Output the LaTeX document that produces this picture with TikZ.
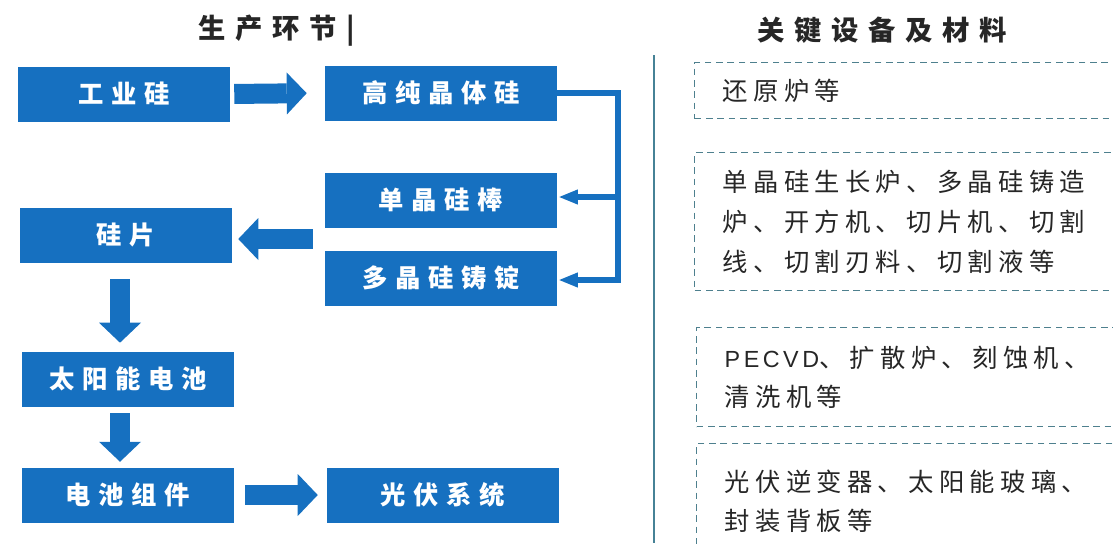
\documentclass[tikz,border=0pt]{standalone}
\usepackage{fontspec}
\usepackage{xcolor}
\usepackage{tikz}
\usetikzlibrary{arrows.meta,calc,positioning}

\newfontfamily\boxfont{Noto Sans CJK SC}[LetterSpace=30]
\newfontfamily\listfont{Noto Sans CJK SC}[LetterSpace=21]
\newfontfamily\headfont{Noto Sans CJK SC}[LetterSpace=35]
\newfontfamily\latinfont{Liberation Sans}[LetterSpace=15]

\definecolor{boxblue}{RGB}{22,112,192}
\definecolor{dashblue}{RGB}{78,128,142}
\definecolor{lineteal}{RGB}{70,130,150}

\begin{document}
\begin{tikzpicture}[x=0.75pt,y=-0.75pt,
  headline/.style={font=\headfont\bfseries\fontsize{20.5pt}{24pt}\selectfont, text=black!85},
  procbox/.style={rectangle, fill=boxblue, text=white, inner sep=0pt, minimum height=41.25pt, font=\boxfont\bfseries\fontsize{19pt}{22pt}\selectfont},
  leftbox/.style={procbox, minimum width=159pt},
  rightbox/.style={procbox, minimum width=174pt},
  fatarrow/.style={draw=boxblue, line width=15pt, -{Triangle[length=15pt,width=31.5pt,line width=0pt]}},
  feed/.style={draw=boxblue, line width=4.5pt, shorten >=1.5pt, -{Triangle[length=14pt,width=11.5pt,line width=0pt]}},
  equipbox/.style={draw=dashblue, line width=1.1pt, dash pattern=on 5pt off 3.5pt, anchor=north west, inner xsep=21pt, text width=330pt, align=left, text=black!85, font=\listfont\fontsize{19pt}{29pt}\selectfont}]

\useasboundingbox (0,0) rectangle (1113,543);
\clip (0,0) rectangle (1113,543);

\node[headline] (prodhead) at (277,31) {生产环节|};
\node[headline] (equiphead) at (882,30) {关键设备及材料};

% production chain
\node[leftbox] (silicon) at (124,94) {工业硅};
\node[rightbox] (highpure) at (441,93) {高纯晶体硅};
\node[rightbox] (mono) at (441,200) {单晶硅棒};
\node[rightbox] (multi) at (441,278) {多晶硅铸锭};
\node[leftbox] (wafer) at (126,235) {硅片};
\node[leftbox] (cell) at (128,379) {太阳能电池};
\node[leftbox] (module) at (128,495) {电池组件};
\node[rightbox] (system) at (443,495) {光伏系统};

\draw[fatarrow, shorten <=3pt, shorten >=13.5pt] (silicon.east) -- (highpure.west);
\coordinate (split) at ($(mono.south west)!0.5!(multi.north west)$);
\draw[fatarrow, shorten <=9pt, shorten >=4.5pt] (split) -- (split -| wafer.east);
\draw[fatarrow, shorten <=12.4pt, shorten >=6.4pt] ([xshift=-4.5pt]wafer.south) -- ([xshift=-4.5pt]wafer.south |- cell.north);
\draw[fatarrow, shorten <=4.9pt, shorten >=4.1pt] ([xshift=-6pt]cell.south) -- ([xshift=-6pt]cell.south |- module.north);
\draw[fatarrow, shorten <=8.25pt, shorten >=6.75pt] (module.east) -- (system.west);

% split to mono / multi
\draw[feed] (highpure.east) -- ++(61,0) coordinate (bend) |- ([yshift=-1.5pt]multi.east);
\draw[feed] ([yshift=2.25pt]mono.east -| bend) -- ([yshift=2.25pt]mono.east);

% divider
\draw[lineteal, line width=1.9pt] (654,55) -- (654,543);

% equipment
\node[equipbox, minimum height=42pt] (reduce) at (694,62) {还原炉等};
\node[equipbox, minimum height=103.5pt, font=\listfont\fontsize{19pt}{30pt}\selectfont] (crystal) at (694,152) {单晶硅生长炉、多晶硅铸造\\炉、开方机、切片机、切割\\线、切割刃料、切割液等};
\node[equipbox, minimum height=74.25pt] (cellequip) at (696,327) {{\latinfont\fontsize{17.5pt}{29pt}\selectfont PECVD}、扩散炉、刻蚀机、\\清洗机等};
\node[equipbox, minimum height=86.25pt] (moduleequip) at (696,443) {光伏逆变器、太阳能玻璃、\\封装背板等};

\end{tikzpicture}
\end{document}
